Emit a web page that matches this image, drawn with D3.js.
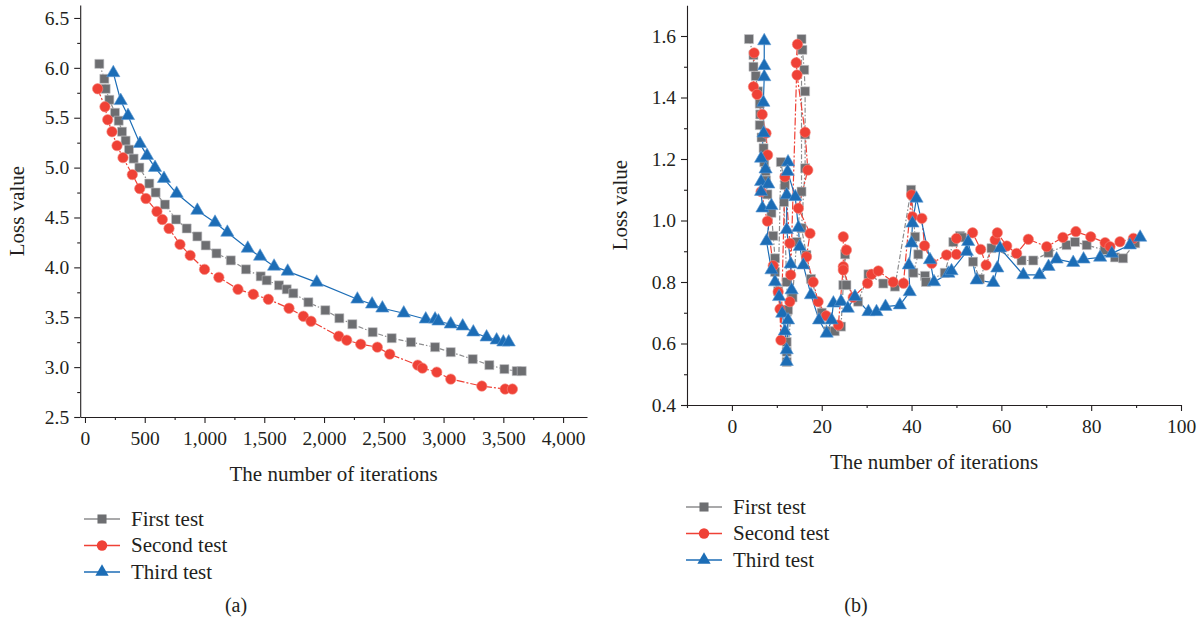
<!DOCTYPE html>
<html>
<head>
<meta charset="utf-8">
<script src="https://cdn.jsdelivr.net/npm/d3@7"></script>
<style>
  body { margin: 0; background: #fff; }
  text { font-family: "Liberation Serif", "DejaVu Serif", serif; fill: #231f20; }
</style>
</head>
<body>
<div id="chart"></div>
<script>
// ---- data, panel (a): [iterations, loss]
var firstTestA = [[120,6.04],[162,5.89],[173,5.79],[204,5.68],[251,5.55],[282,5.47],[310,5.36],[340,5.27],[368,5.18],[407,5.09],[455,5.00],[538,4.84],[591,4.75],[669,4.63],[762,4.48],[851,4.39],[940,4.31],[1010,4.22],[1100,4.14],[1220,4.07],[1347,3.98],[1470,3.91],[1520,3.87],[1623,3.82],[1688,3.78],[1743,3.74],[1869,3.65],[2011,3.57],[2128,3.49],[2237,3.43],[2407,3.35],[2566,3.29],[2728,3.25],[2929,3.20],[3060,3.15],[3244,3.08],[3383,3.02],[3509,2.98],[3612,2.96],[3654,2.96]];
var secondTestA = [[106,5.79],[167,5.61],[190,5.48],[226,5.36],[268,5.22],[318,5.10],[396,4.93],[458,4.79],[510,4.69],[602,4.56],[647,4.48],[703,4.39],[795,4.23],[880,4.12],[1000,3.98],[1120,3.90],[1280,3.78],[1408,3.73],[1534,3.68],[1707,3.59],[1827,3.51],[1891,3.46],[2123,3.31],[2190,3.27],[2307,3.23],[2446,3.20],[2550,3.13],[2784,3.02],[2823,2.99],[2943,2.95],[3060,2.88],[3320,2.81],[3515,2.78],[3576,2.78]];
var thirdTestA = [[237,5.95],[299,5.67],[360,5.52],[460,5.24],[519,5.12],[586,5.00],[661,4.89],[767,4.74],[940,4.57],[1088,4.45],[1191,4.35],[1362,4.19],[1465,4.11],[1582,4.01],[1696,3.96],[1939,3.85],[2279,3.68],[2402,3.63],[2488,3.59],[2667,3.54],[2851,3.48],[2929,3.48],[2957,3.46],[3060,3.43],[3160,3.41],[3249,3.35],[3360,3.30],[3444,3.27],[3500,3.25],[3545,3.25]];

// ---- data, panel (b)
var firstTestB = [[3.8,1.59],[4.8,1.538],[4.8,1.50],[5.3,1.47],[5.8,1.42],[6.2,1.38],[6.3,1.345],[6.2,1.31],[6.6,1.27],[7.05,1.235],[7.2,1.19],[7.5,1.16],[7.6,1.13],[7.9,1.085],[8.8,1.025],[9.2,0.95],[9.6,0.877],[9.6,0.833],[10.3,0.77],[10.9,1.19],[11.8,1.115],[11.6,1.06],[12.2,0.80],[12.5,0.71],[12.2,0.605],[12.2,0.573],[12.2,0.54],[13.5,0.75],[14.4,0.93],[15.5,1.094],[15.5,1.59],[15.7,1.555],[16.1,1.49],[16.3,1.42],[16.3,1.28],[16.3,1.17],[15.5,0.975],[16.6,0.888],[17.6,0.81],[20,0.70],[21.5,0.64],[22.9,0.64],[24.3,0.655],[24.8,0.79],[25.2,0.89],[25.5,0.79],[28.1,0.736],[30.4,0.825],[33.7,0.795],[36.3,0.785],[39.9,1.10],[40.8,0.947],[41.5,0.89],[40.4,0.83],[43,0.82],[43.2,0.80],[47.4,0.83],[49.3,0.93],[50.8,0.95],[51.2,0.945],[53.7,0.866],[55.2,0.81],[57.8,0.91],[64.5,0.87],[67.1,0.87],[70.5,0.895],[74.5,0.92],[76.4,0.93],[79,0.92],[83,0.904],[85.3,0.88],[87.1,0.877],[89.8,0.926]];
var secondTestB = [[4.95,1.545],[4.8,1.435],[5.6,1.41],[6.75,1.345],[7.6,1.284],[7.95,1.213],[6.5,1.094],[7.9,0.998],[9.2,0.853],[10.3,0.768],[10.7,0.712],[10.9,0.611],[11.8,1.142],[12.9,0.926],[13.1,0.823],[12.9,0.736],[14.6,1.573],[14.3,1.513],[14.5,1.473],[16.3,1.287],[16.9,1.164],[14.8,1.04],[17.4,0.958],[16.6,0.882],[18.1,0.80],[19.2,0.736],[21,0.69],[23.7,0.66],[24.8,0.85],[24.8,0.947],[25.5,0.904],[24.8,0.839],[27,0.75],[30.2,0.796],[31.1,0.825],[32.6,0.836],[35.9,0.80],[38.2,0.796],[40,1.083],[40.2,1.012],[42.3,1.007],[42.9,0.918],[44.5,0.861],[47.8,0.888],[50,0.89],[50,0.942],[53.6,0.96],[55.4,0.906],[56.6,0.855],[58.6,0.937],[59.1,0.96],[61.2,0.917],[63.4,0.893],[66,0.939],[70.1,0.915],[73.7,0.945],[76.6,0.964],[79.9,0.947],[83.1,0.928],[84.2,0.915],[86.4,0.931],[89.4,0.942]];
var thirdTestB = [[7.2,1.584],[7.2,1.503],[7.2,1.467],[7.0,1.384],[7.05,1.284],[6.5,1.202],[7.5,1.167],[6.5,1.126],[8.1,1.118],[6.5,1.094],[6.8,1.04],[8.8,1.048],[7.7,0.933],[8.8,0.839],[9.6,0.80],[10.5,0.752],[11.2,0.698],[11.8,0.64],[12.2,0.579],[12.2,0.541],[12.5,0.676],[13.3,0.774],[13.1,0.858],[12.2,0.97],[12.2,1.083],[12.5,1.19],[12.4,1.159],[14.1,1.077],[14.8,0.977],[15.1,0.915],[15.9,0.855],[17.6,0.758],[19.4,0.676],[21.1,0.633],[22.2,0.676],[22.6,0.731],[24.3,0.736],[25.8,0.714],[27.4,0.752],[30.4,0.703],[32.2,0.703],[34.2,0.72],[37.4,0.725],[39.6,0.768],[39.4,0.855],[40,0.926],[40.2,0.991],[41.1,1.072],[44.1,0.872],[45,0.80],[48.2,0.828],[48.9,0.836],[52.3,0.899],[52.6,0.931],[54.5,0.806],[58.2,0.798],[59.1,0.845],[59.7,0.91],[64.9,0.823],[68.5,0.823],[70.5,0.85],[72.3,0.874],[76,0.863],[78.3,0.874],[82,0.88],[84.6,0.893],[88.6,0.92],[90.9,0.945]];

var seriesNames = ["First test", "Second test", "Third test"];
var xTicksA = [0, 500, 1000, 1500, 2000, 2500, 3000, 3500, 4000];
var yTicksA = [2.5, 3.0, 3.5, 4.0, 4.5, 5.0, 5.5, 6.0, 6.5];
var xTicksB = [0, 20, 40, 60, 80, 100];
var yTicksB = [0.4, 0.6, 0.8, 1.0, 1.2, 1.4, 1.6];

// styles per series
var styles = [
    { line: "#8c8c8e", dash: "5,2,1.5,2", fill: "#6d6e71", stroke: "#c4c5c7", shape: d3.symbolSquare, size: 82 },
    { line: "#ef4136", dash: "8,2,2,2", fill: "#ef4136", stroke: "#f58a80", shape: d3.symbolCircle, size: 85 },
    { line: "#1c6db6", dash: null, fill: "#1c6db6", stroke: "#5f9bd3", shape: d3.symbolTriangle, size: 76 }
];

var svg = d3.select("#chart").append("svg")
    .attr("width", 1204)
    .attr("height", 623);

function panel(cfg) {
    var g = svg.append("g");

    var x = d3.scaleLinear().domain(cfg.xDomain).range(cfg.xRange);
    var y = d3.scaleLinear().domain(cfg.yDomain).range(cfg.yRange);

    var xAxis = d3.axisBottom(x).tickValues(cfg.xTicks).tickSize(6).tickSizeOuter(0)
        .tickFormat(cfg.xFormat).tickPadding(8);
    var yAxis = d3.axisLeft(y).tickValues(cfg.yTicks).tickSize(6).tickSizeOuter(0)
        .tickFormat(d3.format(".1f")).tickPadding(5);

    // minor ticks
    g.append("g")
        .attr("transform", "translate(0," + cfg.yRange[0] + ")")
        .call(d3.axisBottom(x).tickValues(cfg.xMinor).tickSize(3).tickFormat("").tickSizeOuter(0))
        .call(a => a.select(".domain").remove());
    g.append("g")
        .attr("transform", "translate(" + cfg.xRange[0] + ",0)")
        .call(d3.axisLeft(y).tickValues(cfg.yMinor).tickSize(3).tickFormat("").tickSizeOuter(0))
        .call(a => a.select(".domain").remove());

    g.append("g")
        .attr("transform", "translate(0," + cfg.yRange[0] + ")")
        .call(xAxis);
    g.append("g")
        .attr("transform", "translate(" + cfg.xRange[0] + ",0)")
        .call(yAxis);

    g.selectAll(".tick line, .domain").attr("stroke", "#231f20").attr("stroke-width", 1.1);
    g.selectAll(".tick text").style("font-size", "19.5px").style("font-family", "Liberation Serif, serif").attr("fill", "#231f20");

    // axis titles
    g.append("text")
        .attr("x", d3.mean(cfg.xRange)).attr("y", cfg.xTitleY)
        .attr("text-anchor", "middle")
        .style("font-size", "21px")
        .text("The number of iterations");
    g.append("text")
        .attr("transform", "translate(" + cfg.yTitleX + "," + d3.mean(cfg.yRange) + ") rotate(-90)")
        .attr("text-anchor", "middle")
        .style("font-size", "21px")
        .text("Loss value");

    // lines, then markers on top
    var line = d3.line().x(d => x(d[0])).y(d => y(d[1]));
    cfg.data.forEach(function (series, i) {
        var s = styles[i];
        g.append("path")
            .datum(series)
            .attr("d", line)
            .attr("fill", "none")
            .attr("stroke", s.line)
            .attr("stroke-width", 1.2)
            .attr("stroke-dasharray", s.dash);
    });
    cfg.data.forEach(function (series, i) {
        var s = styles[i];
        g.selectAll(".m" + i)
            .data(series)
            .enter()
            .append("path")
            .attr("class", "m" + i)
            .attr("transform", d => "translate(" + x(d[0]) + "," + y(d[1]) + ")")
            .attr("d", d3.symbol().type(s.shape).size(s.size))
            .attr("fill", s.fill)
            .attr("stroke", s.stroke)
            .attr("stroke-width", 0.6);
    });

    // legend
    seriesNames.forEach(function (name, i) {
        var s = styles[i];
        var ly = cfg.legendY + i * 26.5;
        g.append("line")
            .attr("x1", cfg.legendX).attr("x2", cfg.legendX + 36)
            .attr("y1", ly).attr("y2", ly)
            .attr("stroke", s.line)
            .attr("stroke-width", 1.5);
        g.append("path")
            .attr("transform", "translate(" + (cfg.legendX + 18) + "," + ly + ")")
            .attr("d", d3.symbol().type(s.shape).size(s.size))
            .attr("fill", s.fill);
        g.append("text")
            .attr("x", cfg.legendX + 47).attr("y", ly)
            .attr("dy", "0.33em")
            .style("font-size", "21px")
            .text(name);
    });

    g.append("text")
        .attr("x", cfg.tagX).attr("y", cfg.tagY)
        .attr("text-anchor", "middle")
        .attr("dy", "0.33em")
        .style("font-size", "20px")
        .text(cfg.tag);
}

panel({
    data: [firstTestA, secondTestA, thirdTestA],
    xDomain: [-40, 4200], xRange: [80.2, 587],
    yDomain: [2.5, 6.63], yRange: [417, 5],
    xTicks: xTicksA, yTicks: yTicksA,
    xMinor: d3.range(250, 4200, 500), yMinor: d3.range(2.75, 6.6, 0.5),
    xFormat: d3.format(",d"),
    xTitleY: 481, yTitleX: 24,
    legendX: 84, legendY: 519,
    tag: "(a)", tagX: 236, tagY: 605
});

panel({
    data: [firstTestB, secondTestB, thirdTestB],
    xDomain: [-10, 100], xRange: [687, 1181],
    yDomain: [0.4, 1.7], yRange: [405, 5.25],
    xTicks: xTicksB, yTicks: yTicksB,
    xMinor: d3.range(-10, 100, 20), yMinor: d3.range(0.5, 1.7, 0.2),
    xFormat: d3.format("d"),
    xTitleY: 469, yTitleX: 627,
    legendX: 686, legendY: 507,
    tag: "(b)", tagX: 856, tagY: 605
});
</script>
</body>
</html>
